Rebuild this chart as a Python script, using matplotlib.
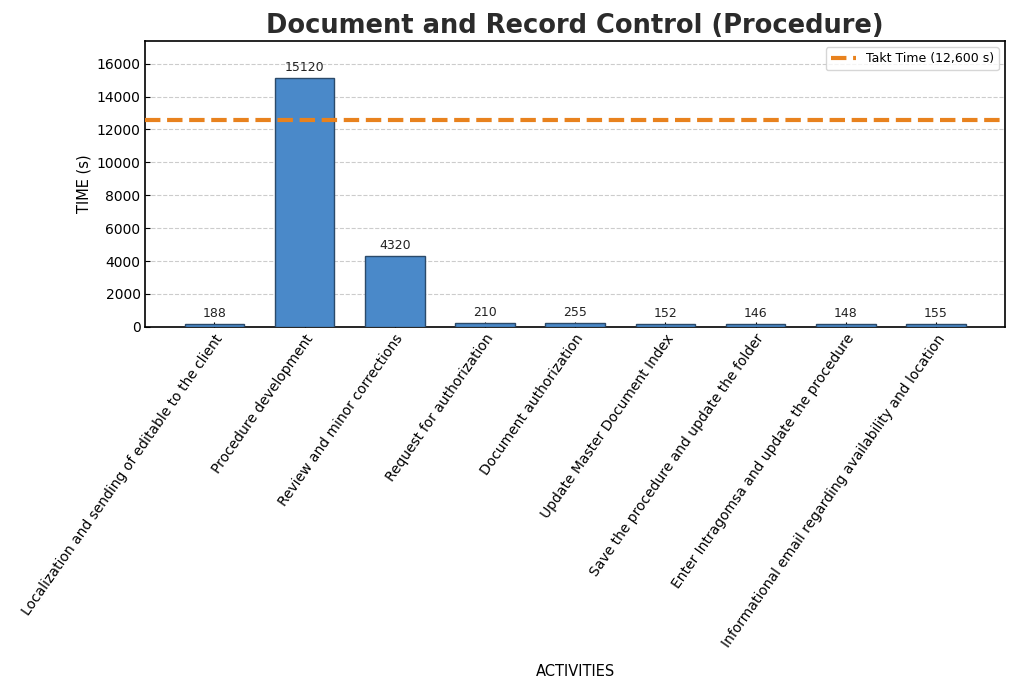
import matplotlib.pyplot as plt
import matplotlib.transforms as mtransforms
import numpy as np

activities = [
    "Localization and sending of editable to the client",
    "Procedure development",
    "Review and minor corrections",
    "Request for authorization",
    "Document authorization",
    "Update Master Document Index",
    "Save the procedure and update the folder",
    "Enter Intragomsa and update the procedure",
    "Informational email regarding availability and location",
]
times = [188, 15120, 4320, 210, 255, 152, 146, 148, 155]
takt_time = 12600

fig, ax = plt.subplots(figsize=(10.1, 6.81), dpi=100)
x = np.arange(len(activities))
bars = ax.bar(x, times, width=0.66, color="#4a89c9", edgecolor="#2b4a6a", linewidth=1, zorder=3)

# takt time reference
ax.axhline(takt_time, color="#e8821e", linestyle="--", linewidth=3, label="Takt Time (12,600 s)", zorder=4)

for b, v in zip(bars, times):
    ax.text(b.get_x() + b.get_width() / 2, v + 250, str(v), ha="center", va="bottom", fontsize=9, color="#222222")

ax.set_ylim(0, max(times) * 1.15)
ax.set_xticks(x)
ax.set_xticklabels(activities, rotation=55, ha="right", rotation_mode="anchor", fontsize=9.5)
# nudge labels a bit left so their ends sit under the ticks
shift = mtransforms.ScaledTranslation(-8 / 100, 0, fig.dpi_scale_trans)
for lbl in ax.get_xticklabels():
    lbl.set_transform(lbl.get_transform() + shift)
ax.tick_params(axis="both", direction="in", labelsize=10)
ax.grid(axis="y", linestyle="--", color="#cccccc", linewidth=0.8, zorder=0)
ax.set_axisbelow(True)

ax.set_title("Document and Record Control (Procedure)", fontsize=18.5, fontweight="bold", color="#2b2b2b", pad=6)
ax.set_ylabel("TIME (s)", fontsize=10.5)
ax.set_xlabel("ACTIVITIES", fontsize=10.5, labelpad=10)
for s in ax.spines.values():
    s.set_linewidth(1.2)
ax.legend(loc="upper right", fontsize=9)

plt.subplots_adjust(left=0.144, right=0.995, top=0.94, bottom=0.52)
fig.savefig("out.png")
